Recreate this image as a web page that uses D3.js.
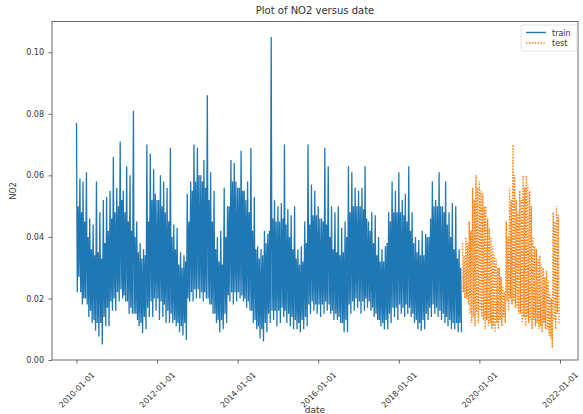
<!DOCTYPE html>
<html>
<head>
<meta charset="utf-8">
<script src="https://cdn.jsdelivr.net/npm/d3@7"></script>
<style>
  body { margin: 0; background: #fff; }
  text { font-family: "DejaVu Sans", sans-serif; fill: #333; }
</style>
</head>
<body>
<div id="chart"></div>
<script>
// monthly peak / trough of the daily NO2 series
var trainStart = new Date(2010, 0, 1);
var trainHigh = [
  0.077, 0.059, 0.058, 0.061, 0.046, 0.044, 0.058, 0.048, 0.052, 0.053, 0.055, 0.066,  // 2010
  0.056, 0.071, 0.055, 0.063, 0.060, 0.081, 0.045, 0.038, 0.036, 0.070, 0.067, 0.062,  // 2011
  0.052, 0.060, 0.058, 0.056, 0.069, 0.044, 0.043, 0.035, 0.034, 0.054, 0.058, 0.070,  // 2012
  0.069, 0.060, 0.065, 0.086, 0.061, 0.055, 0.040, 0.042, 0.056, 0.050, 0.065, 0.064,  // 2013
  0.056, 0.068, 0.055, 0.058, 0.069, 0.053, 0.037, 0.036, 0.042, 0.041, 0.105, 0.052,  // 2014
  0.050, 0.051, 0.070, 0.049, 0.047, 0.050, 0.036, 0.037, 0.045, 0.070, 0.057, 0.055,  // 2015
  0.050, 0.046, 0.069, 0.063, 0.050, 0.048, 0.050, 0.043, 0.045, 0.063, 0.061, 0.056,  // 2016
  0.055, 0.056, 0.063, 0.045, 0.048, 0.047, 0.040, 0.036, 0.037, 0.048, 0.058, 0.055,  // 2017
  0.061, 0.052, 0.054, 0.063, 0.048, 0.040, 0.039, 0.042, 0.041, 0.040, 0.058, 0.052,  // 2018
  0.061, 0.050, 0.058, 0.048, 0.051, 0.050, 0.036                                      // 2019
];
var trainLow = [
  0.027, 0.018, 0.020, 0.014, 0.012, 0.0095, 0.0076, 0.005, 0.011, 0.011, 0.016, 0.016,
  0.019, 0.020, 0.019, 0.015, 0.015, 0.015, 0.011, 0.0087, 0.010, 0.014, 0.014, 0.016,
  0.013, 0.014, 0.012, 0.012, 0.012, 0.011, 0.009, 0.008, 0.0065, 0.019, 0.019, 0.020,
  0.020, 0.019, 0.020, 0.018, 0.015, 0.012, 0.009, 0.010, 0.012, 0.019, 0.018, 0.019,
  0.020, 0.019, 0.017, 0.016, 0.012, 0.010, 0.007, 0.006, 0.009, 0.012, 0.013, 0.011,
  0.012, 0.014, 0.012, 0.011, 0.010, 0.010, 0.009, 0.010, 0.011, 0.015, 0.016, 0.015,
  0.014, 0.015, 0.016, 0.015, 0.013, 0.013, 0.012, 0.009, 0.009, 0.015, 0.016, 0.017,
  0.015, 0.016, 0.017, 0.016, 0.014, 0.013, 0.011, 0.010, 0.010, 0.012, 0.014, 0.013,
  0.015, 0.014, 0.015, 0.014, 0.012, 0.010, 0.0095, 0.010, 0.013, 0.014, 0.015, 0.014,
  0.013, 0.012, 0.011, 0.010, 0.010, 0.009, 0.009
];
// edges of the solid core of the band, month by month
var trainCoreHigh = [
  0.050, 0.048, 0.045, 0.040, 0.036, 0.034, 0.035, 0.033, 0.038, 0.042, 0.046, 0.048,
  0.050, 0.052, 0.048, 0.045, 0.042, 0.040, 0.035, 0.033, 0.034, 0.045, 0.052, 0.054,
  0.052, 0.050, 0.048, 0.045, 0.040, 0.036, 0.031, 0.030, 0.032, 0.045, 0.055, 0.058,
  0.060, 0.058, 0.056, 0.052, 0.045, 0.036, 0.032, 0.031, 0.040, 0.050, 0.058, 0.058,
  0.056, 0.055, 0.052, 0.048, 0.042, 0.036, 0.033, 0.034, 0.038, 0.042, 0.046, 0.045,
  0.045, 0.046, 0.044, 0.040, 0.036, 0.033, 0.031, 0.032, 0.038, 0.044, 0.047, 0.047,
  0.046, 0.045, 0.044, 0.040, 0.036, 0.035, 0.034, 0.035, 0.040, 0.048, 0.050, 0.050,
  0.050, 0.049, 0.046, 0.042, 0.038, 0.034, 0.032, 0.032, 0.038, 0.045, 0.048, 0.048,
  0.048, 0.047, 0.045, 0.042, 0.038, 0.035, 0.034, 0.034, 0.040, 0.046, 0.050, 0.050,
  0.050, 0.048, 0.044, 0.040, 0.036, 0.033, 0.030
];
var trainCoreLow = [
  0.022, 0.022, 0.020, 0.018, 0.016, 0.013, 0.012, 0.012, 0.014, 0.017, 0.019, 0.020,
  0.022, 0.023, 0.021, 0.019, 0.017, 0.015, 0.013, 0.012, 0.014, 0.017, 0.019, 0.020,
  0.020, 0.019, 0.018, 0.016, 0.015, 0.013, 0.012, 0.011, 0.012, 0.020, 0.022, 0.023,
  0.023, 0.022, 0.022, 0.020, 0.018, 0.015, 0.013, 0.013, 0.015, 0.021, 0.022, 0.022,
  0.022, 0.021, 0.020, 0.019, 0.016, 0.013, 0.011, 0.010, 0.012, 0.015, 0.016, 0.016,
  0.016, 0.017, 0.016, 0.015, 0.014, 0.013, 0.012, 0.013, 0.014, 0.018, 0.019, 0.018,
  0.018, 0.018, 0.019, 0.018, 0.016, 0.015, 0.014, 0.012, 0.013, 0.018, 0.019, 0.020,
  0.019, 0.019, 0.020, 0.019, 0.017, 0.015, 0.013, 0.012, 0.013, 0.015, 0.017, 0.017,
  0.018, 0.017, 0.018, 0.017, 0.015, 0.013, 0.012, 0.013, 0.015, 0.017, 0.018, 0.017,
  0.016, 0.015, 0.014, 0.013, 0.012, 0.012, 0.012
];

var testStart = new Date(2019, 7, 1);
var testHigh = [
  0.038, 0.040, 0.045, 0.056, 0.060,                                                   // 2019
  0.058, 0.054, 0.050, 0.043, 0.037, 0.033, 0.030, 0.024, 0.045, 0.056, 0.070, 0.052,  // 2020
  0.055, 0.060, 0.060, 0.055, 0.040, 0.036, 0.034, 0.030, 0.029, 0.022, 0.048, 0.050   // 2021
];
var testLow = [
  0.020, 0.018, 0.012, 0.011, 0.012,
  0.014, 0.010, 0.011, 0.010, 0.009, 0.010, 0.011, 0.012, 0.016, 0.018, 0.017, 0.015,
  0.012, 0.011, 0.012, 0.010, 0.011, 0.010, 0.009, 0.010, 0.008, 0.004, 0.010, 0.012
];
var testCoreHigh = [
  0.034, 0.038, 0.042, 0.052, 0.056,
  0.055, 0.050, 0.046, 0.040, 0.034, 0.030, 0.027, 0.022, 0.040, 0.052, 0.060, 0.048,
  0.052, 0.056, 0.057, 0.050, 0.037, 0.033, 0.031, 0.027, 0.026, 0.020, 0.045, 0.047
];
var testCoreLow = [
  0.022, 0.020, 0.015, 0.014, 0.015,
  0.016, 0.013, 0.013, 0.012, 0.011, 0.012, 0.013, 0.014, 0.019, 0.020, 0.019, 0.017,
  0.015, 0.014, 0.014, 0.013, 0.013, 0.012, 0.011, 0.012, 0.010, 0.007, 0.013, 0.015
];

var yTicks = [0.00, 0.02, 0.04, 0.06, 0.08, 0.10];
var xTicks = [2010, 2012, 2014, 2016, 2018, 2020, 2022];

// four readings a month: peak, core low, core high, trough
function buildSeries(start, highs, coreLows, coreHighs, lows) {
  var pts = [];
  highs.forEach(function(h, i) {
    var m = d3.timeMonth.offset(start, i);
    pts.push({date: m, value: h});
    pts.push({date: d3.timeDay.offset(m, 7),  value: coreLows[i]});
    pts.push({date: d3.timeDay.offset(m, 15), value: coreHighs[i]});
    pts.push({date: d3.timeDay.offset(m, 22), value: lows[i]});
  });
  return pts;
}
var train = buildSeries(trainStart, trainHigh, trainCoreLow, trainCoreHigh, trainLow);
var test  = buildSeries(testStart, testHigh, testCoreLow, testCoreHigh, testLow);

var W = 583, H = 414;
var frame = {left: 52, right: 578, top: 21.5, bottom: 360};

var svg = d3.select("#chart").append("svg")
    .attr("width", W)
    .attr("height", H);

var x = d3.scaleTime()
    .domain([new Date(2010, 0, 1), new Date(2022, 0, 1)])
    .range([76.5, 560]);
var y = d3.scaleLinear()
    .domain([0, 0.11])
    .range([frame.bottom, frame.top]);

svg.append("clipPath").attr("id", "clip")
  .append("rect")
    .attr("x", frame.left).attr("y", frame.top)
    .attr("width", frame.right - frame.left)
    .attr("height", frame.bottom - frame.top);

var line = d3.line()
    .x(function(d) { return x(d.date); })
    .y(function(d) { return y(d.value); });

var plot = svg.append("g").attr("clip-path", "url(#clip)");

plot.append("path")
    .datum(train)
    .attr("d", line)
    .attr("fill", "none")
    .attr("stroke", "#1f77b4")
    .attr("stroke-width", 1.3)
    .attr("stroke-linejoin", "miter");

plot.append("path")
    .datum(test)
    .attr("d", line)
    .attr("fill", "none")
    .attr("stroke", "#ff7f0e")
    .attr("stroke-width", 1.4)
    .attr("stroke-dasharray", "1.4,1.5");

// axes
var xAxis = svg.append("g")
    .attr("transform", "translate(0," + frame.bottom + ")")
    .call(d3.axisBottom(x)
        .tickValues(xTicks.map(function(yr) { return new Date(yr, 0, 1); }))
        .tickFormat(d3.timeFormat("%Y-%m-%d"))
        .tickSize(3.5)
        .tickSizeOuter(0));
xAxis.select(".domain").remove();
xAxis.selectAll("line").attr("stroke", "#444").attr("stroke-width", 0.8);
xAxis.selectAll("text")
    .attr("font-size", 8)
    .attr("fill", "#333")
    .attr("text-anchor", "middle")
    .attr("dy", null)
    .attr("y", null)
    .attr("transform", "translate(0,30) rotate(-45)")
    .attr("dominant-baseline", "middle");

var yAxis = svg.append("g")
    .attr("transform", "translate(" + frame.left + ",0)")
    .call(d3.axisLeft(y)
        .tickValues(yTicks)
        .tickFormat(d3.format(".2f"))
        .tickSize(3.5)
        .tickSizeOuter(0));
yAxis.select(".domain").remove();
yAxis.selectAll("line").attr("stroke", "#444").attr("stroke-width", 0.8);
yAxis.selectAll("text")
    .attr("font-size", 8)
    .attr("fill", "#333")
    .attr("x", -8);

// frame
svg.append("rect")
    .attr("x", frame.left).attr("y", frame.top)
    .attr("width", frame.right - frame.left)
    .attr("height", frame.bottom - frame.top)
    .attr("fill", "none")
    .attr("stroke", "#444")
    .attr("stroke-width", 0.8);

// labels
svg.append("text")
    .attr("x", (frame.left + frame.right) / 2)
    .attr("y", 14)
    .attr("text-anchor", "middle")
    .attr("font-size", 10)
    .text("Plot of NO2 versus date");

svg.append("text")
    .attr("x", (frame.left + frame.right) / 2)
    .attr("y", 413)
    .attr("text-anchor", "middle")
    .attr("font-size", 9)
    .text("date");

svg.append("text")
    .attr("transform", "translate(16," + ((frame.top + frame.bottom) / 2) + ") rotate(-90)")
    .attr("text-anchor", "middle")
    .attr("font-size", 8)
    .text("NO2");

// legend
var legend = svg.append("g").attr("transform", "translate(521,25)");
legend.append("rect")
    .attr("width", 56).attr("height", 26)
    .attr("rx", 2)
    .attr("fill", "#fff")
    .attr("fill-opacity", 0.8)
    .attr("stroke", "#ddd")
    .attr("stroke-width", 0.8);
var items = [
  {name: "train", color: "#1f77b4", dash: null},
  {name: "test",  color: "#ff7f0e", dash: "1.4,1.5"}
];
items.forEach(function(it, i) {
  var yy = 7.5 + i * 10.5;
  legend.append("line")
      .attr("x1", 5).attr("x2", 25)
      .attr("y1", yy).attr("y2", yy)
      .attr("stroke", it.color)
      .attr("stroke-width", 1.4)
      .attr("stroke-dasharray", it.dash);
  legend.append("text")
      .attr("x", 31).attr("y", yy + 3)
      .attr("font-size", 8)
      .text(it.name);
});
</script>
</body>
</html>
